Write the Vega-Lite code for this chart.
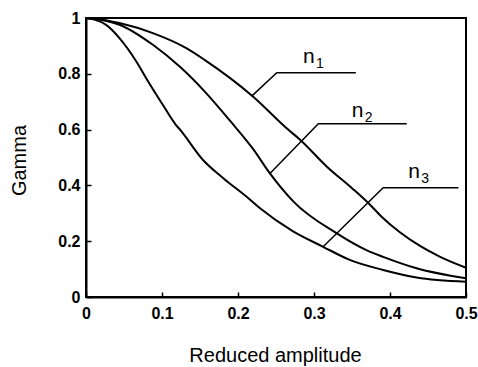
{
  "$schema": "https://vega.github.io/schema/vega-lite/v6.json",
  "width": 380,
  "height": 279,
  "autosize": {"type": "none"},
  "padding": {"left": 86, "top": 18, "right": 12, "bottom": 70},
  "config": {"view": {"stroke": "black", "strokeWidth": 2}, "font": "Liberation Sans"},
  "datasets": {
    "curves": [
      {"series": "n1", "x": 0, "y": 1},
      {"series": "n1", "x": 0.02, "y": 0.995},
      {"series": "n1", "x": 0.044, "y": 0.982},
      {"series": "n1", "x": 0.088, "y": 0.946},
      {"series": "n1", "x": 0.132, "y": 0.892},
      {"series": "n1", "x": 0.156, "y": 0.85},
      {"series": "n1", "x": 0.22, "y": 0.718},
      {"series": "n1", "x": 0.266, "y": 0.6},
      {"series": "n1", "x": 0.282, "y": 0.563},
      {"series": "n1", "x": 0.317, "y": 0.467},
      {"series": "n1", "x": 0.35, "y": 0.39},
      {"series": "n1", "x": 0.374, "y": 0.33},
      {"series": "n1", "x": 0.39, "y": 0.285},
      {"series": "n1", "x": 0.413, "y": 0.232},
      {"series": "n1", "x": 0.44, "y": 0.182},
      {"series": "n1", "x": 0.466, "y": 0.144},
      {"series": "n1", "x": 0.5, "y": 0.105},
      {"series": "n2", "x": 0, "y": 1},
      {"series": "n2", "x": 0.02, "y": 0.993},
      {"series": "n2", "x": 0.044, "y": 0.976},
      {"series": "n2", "x": 0.088, "y": 0.904},
      {"series": "n2", "x": 0.124, "y": 0.824},
      {"series": "n2", "x": 0.156, "y": 0.737},
      {"series": "n2", "x": 0.19, "y": 0.63},
      {"series": "n2", "x": 0.22, "y": 0.53},
      {"series": "n2", "x": 0.242, "y": 0.443},
      {"series": "n2", "x": 0.273, "y": 0.342},
      {"series": "n2", "x": 0.33, "y": 0.228},
      {"series": "n2", "x": 0.369, "y": 0.168},
      {"series": "n2", "x": 0.391, "y": 0.144},
      {"series": "n2", "x": 0.435, "y": 0.103},
      {"series": "n2", "x": 0.5, "y": 0.067},
      {"series": "n3", "x": 0, "y": 1},
      {"series": "n3", "x": 0.01, "y": 0.995},
      {"series": "n3", "x": 0.026, "y": 0.976},
      {"series": "n3", "x": 0.044, "y": 0.928},
      {"series": "n3", "x": 0.066, "y": 0.845},
      {"series": "n3", "x": 0.079, "y": 0.785},
      {"series": "n3", "x": 0.101, "y": 0.689},
      {"series": "n3", "x": 0.118, "y": 0.618},
      {"series": "n3", "x": 0.124, "y": 0.599},
      {"series": "n3", "x": 0.154, "y": 0.491},
      {"series": "n3", "x": 0.181, "y": 0.425},
      {"series": "n3", "x": 0.211, "y": 0.36},
      {"series": "n3", "x": 0.229, "y": 0.318},
      {"series": "n3", "x": 0.272, "y": 0.236},
      {"series": "n3", "x": 0.312, "y": 0.18},
      {"series": "n3", "x": 0.347, "y": 0.133},
      {"series": "n3", "x": 0.391, "y": 0.097},
      {"series": "n3", "x": 0.435, "y": 0.07},
      {"series": "n3", "x": 0.5, "y": 0.055}
    ],
    "leaders": [
      {"id": "n1", "ord": 1, "x": 0.218, "y": 0.72},
      {"id": "n1", "ord": 2, "x": 0.251, "y": 0.804},
      {"id": "n1", "ord": 3, "x": 0.355, "y": 0.804},
      {"id": "n2", "ord": 1, "x": 0.242, "y": 0.443},
      {"id": "n2", "ord": 2, "x": 0.3057, "y": 0.621},
      {"id": "n2", "ord": 3, "x": 0.422, "y": 0.621},
      {"id": "n3", "ord": 1, "x": 0.312, "y": 0.18},
      {"id": "n3", "ord": 2, "x": 0.391, "y": 0.392},
      {"id": "n3", "ord": 3, "x": 0.49, "y": 0.392}
    ],
    "labels": [
      {"label": "n", "sub": "1", "x": 0.2855, "y": 0.839},
      {"label": "n", "sub": "2", "x": 0.3496, "y": 0.645},
      {"label": "n", "sub": "3", "x": 0.424, "y": 0.425}
    ]
  },
  "encoding": {
    "x": {
      "field": "x",
      "type": "quantitative",
      "scale": {"domain": [0, 0.5], "nice": false, "zero": false},
      "axis": {
        "title": "Reduced amplitude",
        "values": [0, 0.1, 0.2, 0.3, 0.4, 0.5],
        "format": "~g",
        "grid": false,
        "domainColor": "black",
        "domainWidth": 2,
        "tickColor": "black",
        "tickSize": -5,
        "tickWidth": 1.5,
        "labelFont": "Liberation Sans",
        "labelFontSize": 16,
        "labelFontWeight": "bold",
        "labelColor": "black",
        "labelPadding": 13,
        "labelFlush": false,
        "labelOverlap": false,
        "titleFont": "Liberation Sans",
        "titleFontSize": 20,
        "titleFontWeight": "normal",
        "titleColor": "black",
        "titleX": 189,
        "titleY": 64,
        "titleBaseline": "alphabetic",
        "titleAlign": "center"
      }
    },
    "y": {
      "field": "y",
      "type": "quantitative",
      "scale": {"domain": [0, 1], "nice": false},
      "axis": {
        "title": "Gamma",
        "values": [0, 0.2, 0.4, 0.6, 0.8, 1],
        "format": "~g",
        "grid": false,
        "domainColor": "black",
        "domainWidth": 2,
        "tickColor": "black",
        "tickSize": -5,
        "tickWidth": 1.5,
        "labelFont": "Liberation Sans",
        "labelFontSize": 16,
        "labelFontWeight": "bold",
        "labelColor": "black",
        "labelPadding": 11,
        "labelFlush": false,
        "labelOverlap": false,
        "titleFont": "Liberation Sans",
        "titleFontSize": 20,
        "titleFontWeight": "normal",
        "titleColor": "black",
        "titleAngle": -90,
        "titleX": -61,
        "titleY": 142,
        "titleBaseline": "alphabetic",
        "titleAlign": "center"
      }
    }
  },
  "layer": [
    {
      "data": {"name": "curves"},
      "mark": {"type": "line", "color": "black", "strokeWidth": 2, "interpolate": "monotone"},
      "encoding": {"detail": {"field": "series"}, "order": {"field": "x"}}
    },
    {
      "data": {"name": "leaders"},
      "mark": {"type": "line", "color": "black", "strokeWidth": 1.5},
      "encoding": {"detail": {"field": "id"}, "order": {"field": "ord"}}
    },
    {
      "data": {"name": "labels"},
      "mark": {"type": "text", "align": "left", "baseline": "alphabetic", "fontSize": 21, "font": "Liberation Sans", "color": "black"},
      "encoding": {"text": {"field": "label"}}
    },
    {
      "data": {"name": "labels"},
      "mark": {"type": "text", "align": "left", "baseline": "alphabetic", "fontSize": 14, "font": "Liberation Sans", "color": "black", "dx": 13, "dy": 5},
      "encoding": {"text": {"field": "sub"}}
    }
  ]
}
